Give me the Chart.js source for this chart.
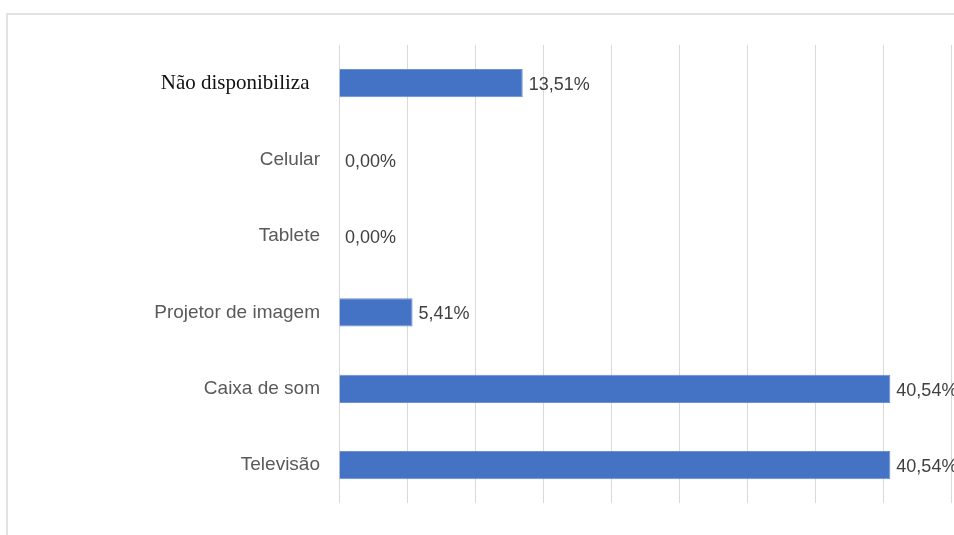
<!DOCTYPE html>
<html>
<head>
<meta charset="utf-8">
<script src="https://cdn.jsdelivr.net/npm/chart.js@4.4.0/dist/chart.umd.min.js"></script>
<style>
  html, body { margin: 0; padding: 0; background: #fff; overflow: hidden; }
  #wrap { position: relative; width: 954px; height: 535px; }
  #frame { position: absolute; left: 6px; top: 13px; width: 1000px; height: 600px;
           border-left: 2px solid #e2e2e2; border-top: 2px solid #e2e2e2; }
  canvas { position: absolute; left: 0; top: 0; }
</style>
</head>
<body>
<div id="wrap">
  <div id="frame"></div>
  <canvas id="chart" width="954" height="535"></canvas>
</div>
<script>
var categories = ['Não disponibiliza', 'Celular', 'Tablete', 'Projetor de imagem', 'Caixa de som', 'Televisão'];
var percents = [13.51, 0.00, 0.00, 5.41, 40.54, 40.54];
var axisMax = 45;
var axisStep = 5;

var sansFont = '"Liberation Sans", Arial, sans-serif';
var serifFont = '"Liberation Serif", "DejaVu Serif", serif';

// value labels drawn right of each bar
var barLabels = {
	id: 'barLabels',
	afterDatasetsDraw: function(chart) {
		var ctx = chart.ctx;
		var meta = chart.getDatasetMeta(0);
		ctx.save();
		ctx.font = '18px ' + sansFont;
		ctx.fillStyle = '#404040';
		ctx.textAlign = 'left';
		ctx.textBaseline = 'middle';
		meta.data.forEach(function(bar, i) {
			var txt = percents[i].toFixed(2).replace('.', ',') + '%';
			ctx.fillText(txt, bar.x + 6, bar.y + 2);
		});
		ctx.restore();
	}
};

var chart = new Chart(document.getElementById('chart'), {
	type: 'bar',
	data: {
		labels: categories,
		datasets: [{
			data: percents,
			backgroundColor: '#4472C4',
			borderColor: '#6a8fd3',
			borderWidth: 1,
			barPercentage: 0.37,
			categoryPercentage: 1
		}]
	},
	options: {
		indexAxis: 'y',
		responsive: false,
		animation: false,
		layout: { padding: { left: 10, right: 3, top: 45, bottom: 25 } },
		plugins: {
			legend: { display: false },
			tooltip: { enabled: false }
		},
		scales: {
			x: {
				min: 0,
				max: axisMax,
				ticks: { display: false, stepSize: axisStep },
				grid: { color: '#d9d9d9', lineWidth: 1, drawTicks: false },
				border: { display: false }
			},
			y: {
				afterFit: function(scale) { scale.width = 329; },
				grid: { display: false, drawTicks: false },
				border: { display: false },
				ticks: {
					padding: 19,
					color: function(c) { return c.index === 0 ? '#111111' : '#595959'; },
					font: function(c) {
						return c.index === 0 ? { family: serifFont, size: 21 } : { family: sansFont, size: 19 };
					},
					callback: function(v, i) {
						return categories[i] + (i === 0 ? '  ' : '');
					}
				}
			}
		}
	},
	plugins: [barLabels]
});
</script>
</body>
</html>
